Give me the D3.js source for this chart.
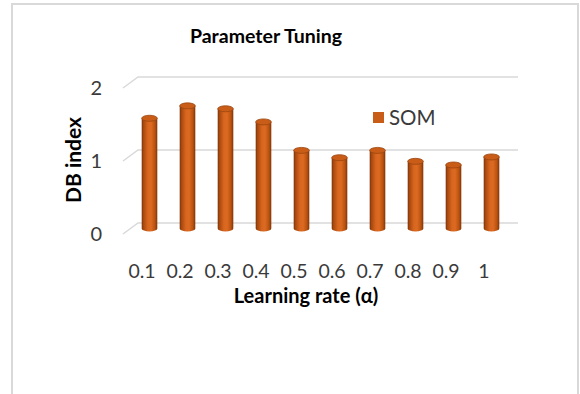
<!DOCTYPE html>
<html><head><meta charset="utf-8">
<script src="https://cdn.jsdelivr.net/npm/d3@7"></script>
<style>html,body{margin:0;padding:0;background:#fff;overflow:hidden}</style>
</head><body>
<svg id="c" width="580" height="394"></svg>
<script>
const categories = ["0.1","0.2","0.3","0.4","0.5","0.6","0.7","0.8","0.9","1"];
const somValues = [1.51, 1.68, 1.64, 1.46, 1.07, 0.97, 1.07, 0.92, 0.87, 0.98];
const yTicks = [0, 1, 2];
const seriesName = "SOM";
const chartTitle = "Parameter Tuning";
const xTitle = "Learning rate (α)";
const yTitle = "DB index";

const svg = d3.select("#c");
const font = "Lato, 'Open Sans', sans-serif";

// chart border
svg.append("rect").attr("x", 12).attr("y", 4).attr("width", 566).attr("height", 400)
  .attr("fill", "#fff").attr("stroke", "#d9d9d9").attr("stroke-width", 2);

// 3D depth offset
const depth = {dx: 15, dy: -11};
const x = d3.scaleBand().domain(categories).range([123, 503]).paddingInner(0).paddingOuter(0);
const y = d3.scaleLinear().domain([0, 2]).range([234, 88]);

// gradient for cylinders
const defs = svg.append("defs");
const g1 = defs.append("linearGradient").attr("id", "cyl").attr("x1", "0").attr("x2", "1").attr("y1", "0").attr("y2", "0");
[[0, "#7c3309"], [0.12, "#a9490f"], [0.4, "#d8661f"], [0.6, "#dc6a22"], [0.85, "#b9520f"], [1, "#7e340a"]]
  .forEach(([o, c]) => g1.append("stop").attr("offset", o).attr("stop-color", c));

// gridlines (front diagonal + back horizontal)
const grid = svg.append("g").attr("stroke", "#d9d9d9").attr("stroke-width", 1.5).attr("fill", "none");
yTicks.forEach(t => {
  const yf = y(t);
  grid.append("path").attr("d",
    `M${x.range()[0]},${yf} L${x.range()[0] + depth.dx},${yf + depth.dy} L${x.range()[1] + depth.dx},${yf + depth.dy}`);
});

// y tick labels
svg.append("g").selectAll("text").data(yTicks).join("text")
  .attr("x", 102).attr("y", d => y(d)).attr("dy", "0.36em")
  .attr("text-anchor", "end").attr("font-family", font).attr("font-size", 20).attr("fill", "#3a3a3a")
  .text(d => d);

// x tick labels
svg.append("g").selectAll("text").data(categories).join("text")
  .attr("x", d => x(d) + x.bandwidth() / 2).attr("y", 278)
  .attr("text-anchor", "middle").attr("font-family", font).attr("font-size", 19.5).attr("fill", "#3a3a3a")
  .text(d => d);

// cylinders
const rx = 7.8, ry = 3;
const bars = svg.append("g");
categories.forEach((c, i) => {
  const cx = x(c) + x.bandwidth() / 2 + depth.dx / 2;
  const yb = y(0) + depth.dy / 2;
  const yt = y(somValues[i]) + depth.dy / 2;
  bars.append("path")
    .attr("d", `M${cx - rx},${yt} L${cx - rx},${yb} A${rx},${ry} 0 0 0 ${cx + rx},${yb} L${cx + rx},${yt} Z`)
    .attr("fill", "url(#cyl)");
  bars.append("ellipse").attr("cx", cx).attr("cy", yt).attr("rx", rx).attr("ry", ry)
    .attr("fill", "#c95c17").attr("stroke", "#9b4510").attr("stroke-width", 0.8);
});

// legend
svg.append("rect").attr("x", 373).attr("y", 112).attr("width", 11).attr("height", 11).attr("fill", "#c95c17");
svg.append("text").attr("x", 389).attr("y", 125).attr("font-family", font).attr("font-size", 20.5)
  .attr("fill", "#3a3a3a").text(seriesName);

// titles
svg.append("text").attr("x", 266).attr("y", 43).attr("text-anchor", "middle")
  .attr("font-family", font).attr("font-weight", "bold").attr("font-size", 19.5).attr("fill", "#000").text(chartTitle);
svg.append("text").attr("x", 306).attr("y", 303).attr("text-anchor", "middle")
  .attr("font-family", font).attr("font-weight", "bold").attr("font-size", 20).attr("fill", "#000").text(xTitle);
svg.append("text").attr("transform", "translate(81,160) rotate(-90)").attr("text-anchor", "middle")
  .attr("font-family", font).attr("font-weight", "bold").attr("font-size", 21).attr("fill", "#000").text(yTitle);
</script>
</body></html>
